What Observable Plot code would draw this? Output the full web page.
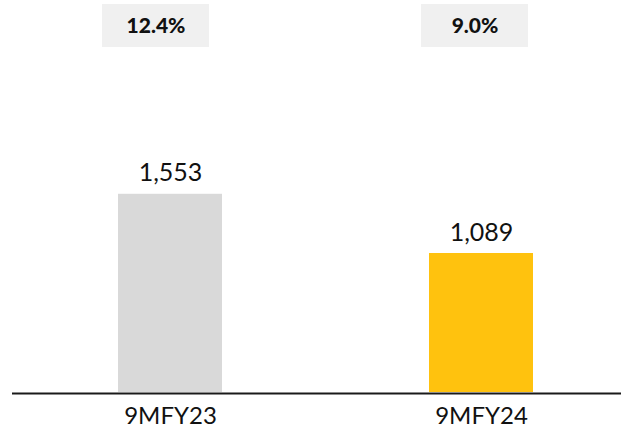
<!DOCTYPE html>
<html>
<head>
<meta charset="utf-8">
<script src="https://cdn.jsdelivr.net/npm/d3@7"></script>
<script src="https://cdn.jsdelivr.net/npm/@observablehq/plot@0.6"></script>
<style>
  html, body { margin: 0; padding: 0; background: #fff; }
  #chart { width: 621px; height: 431px; }
</style>
</head>
<body>
<div id="chart"></div>
<script>
const categories = ["9MFY23", "9MFY24"];
const values = [1553, 1089];
const margins = ["12.4%", "9.0%"];
const valueLabels = ["1,553", "1,089"];
const barColors = ["#d9d9d9", "#ffc20e"];

const data = categories.map((c, i) => ({cat: c, value: values[i], margin: margins[i], label: valueLabels[i], color: barColors[i]}));

// small per-box horizontal offsets of the margin boxes relative to bars (styling)
const boxShift = [-14.5, -6.5];

const boxMarks = data.flatMap((d, i) => [
  Plot.cell([d], {x: "cat", fill: "#f0f0f0", insetLeft: -1.5, insetRight: -1.5, insetBottom: 345, dx: boxShift[i]}),
  Plot.text([d], {x: "cat", text: "margin", frameAnchor: "top", dy: 22, lineAnchor: "middle", dx: boxShift[i],
    fontSize: 21, fontWeight: 900, fill: "#111"})
]);

const chart = Plot.plot({
  width: 621,
  height: 431,
  marginLeft: 12,
  marginRight: 0,
  marginTop: 4,
  marginBottom: 39,
  style: {fontFamily: "Lato, sans-serif", background: "#fff"},
  x: {domain: categories, range: [117, 533], paddingInner: 2/3, paddingOuter: 0, axis: null},
  y: {domain: [0, 3040], axis: null},
  marks: [
    ...boxMarks,
    Plot.barY(data, {x: "cat", y: "value", fill: "color"}),
    Plot.ruleY([0], {stroke: "#1a1a1a", strokeWidth: 2, dy: 1}),
    Plot.text(data, {x: "cat", y: "value", text: "label", dy: -21, lineAnchor: "middle", fontSize: 25, fill: "#111"}),
    Plot.text(data, {x: "cat", text: "cat", frameAnchor: "bottom", dy: 24, lineAnchor: "middle", fontSize: 24, fill: "#111"})
  ]
});
document.getElementById("chart").appendChild(chart);
</script>
</body>
</html>
